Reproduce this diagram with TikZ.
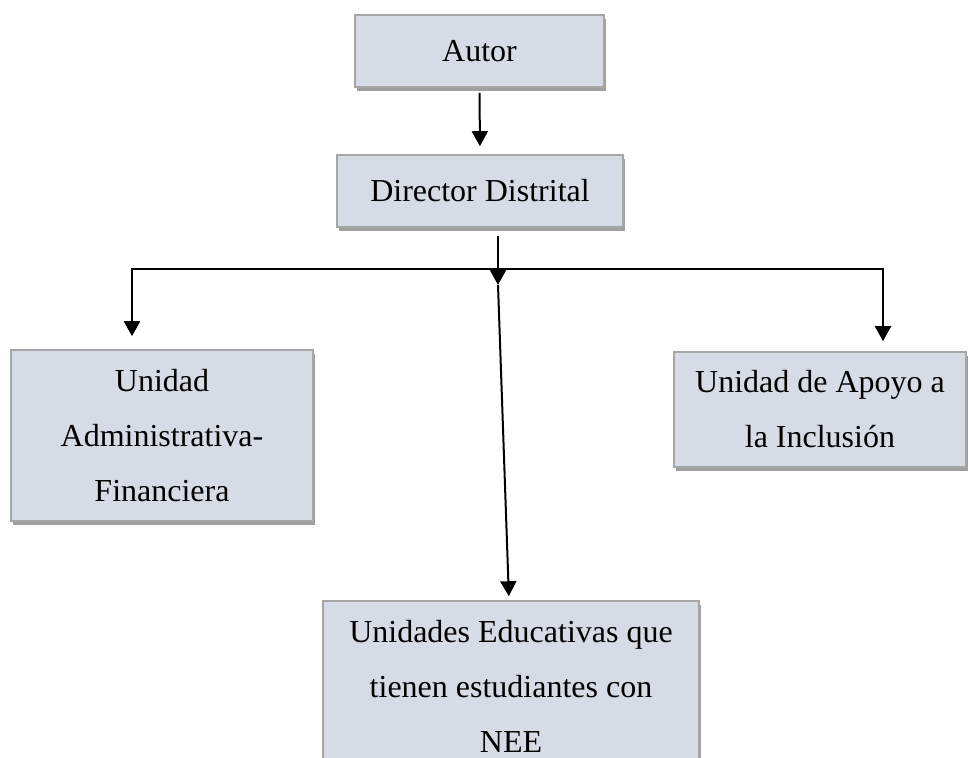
\documentclass[tikz,border=0pt]{standalone}
\usepackage{fontspec}
\setmainfont{Liberation Serif}
\usepackage{tikz}
\usetikzlibrary{
    calc,
    positioning,
    arrows.meta,
    shadows
}

\begin{document}
\begin{tikzpicture}[
    x=0.5pt, y=-0.5pt,
    font=\fontsize{16}{27.5}\selectfont,
    box/.style={
    	draw=my-border,
    	fill=my-fill,
    	line width=0.8pt,
    	inner sep=0pt, align=center,
    	drop shadow={shadow xshift=1pt, shadow yshift=-2.2pt, fill=my-shadow, opacity=1}
    }, pil/.style={
    	-{Triangle[width=8pt, length=7.5pt]},
    	line width=1pt
    }]
    \definecolor{my-fill}{RGB}{214, 220, 229}
    \definecolor{my-border}{RGB}{166, 166, 166}
    \definecolor{my-shadow}{RGB}{160, 160, 160}

    \useasboundingbox (0,0) rectangle (968,758);

    %%% BOXES
    \node[box, minimum width=124.5pt, minimum height=36pt] (autor) at (479.5,51) {Autor};
    \node[box, minimum width=143pt, minimum height=36pt] (director) at (480,191) {Director Distrital};

    \node[box, minimum width=151pt, minimum height=85.5pt] (admin) at (162,435.5) {Unidad\\Administrativa-\\Financiera};
    \node[box, minimum width=146pt, minimum height=57.5pt] (apoyo) at (820,409.5) {Unidad de Apoyo a\\la Inclusi\'on};

    \node[box, minimum width=188pt, minimum height=85pt] (unidades) at (511,686) {Unidades Educativas que\\tienen estudiantes con\\NEE};

    %%% EDGES
    \coordinate (split) at (498,269);
    \coordinate (drop) at (498,285);
    \coordinate (left) at (132,269);
    \coordinate (right) at (883,269);

    \draw[pil, shorten <=2.5pt, shorten >=4pt] (autor.south) -- (director.north);

    \draw[line width=1pt] (left) -- (right);
    \draw[pil, shorten <=4pt] (director.south -| drop) -- (drop);

    \draw[pil, shorten >=6.5pt] (split) -| (admin.north -| left);
    \draw[pil, shorten >=5pt] (split) -| (apoyo.north -| right);

    \draw[pil, shorten >=2pt] (drop) -- ([xshift=-1pt]unidades.north);

\end{tikzpicture}
\end{document}
